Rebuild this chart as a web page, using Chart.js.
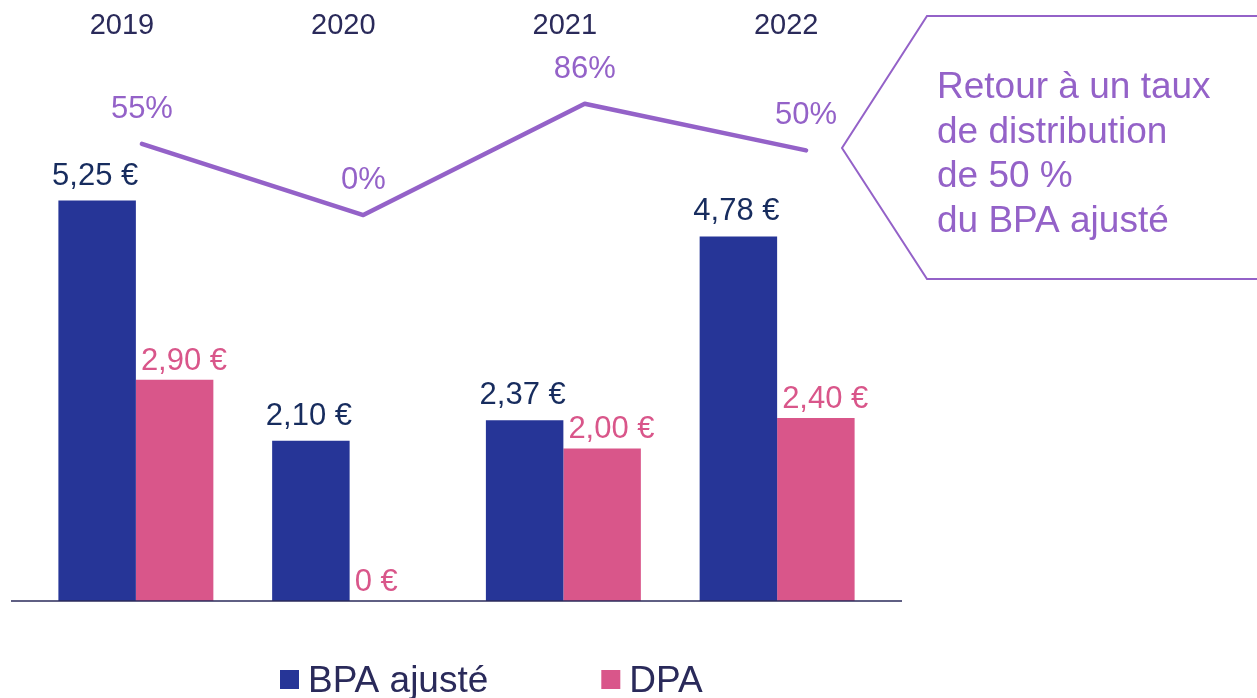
<!DOCTYPE html>
<html>
<head>
<meta charset="utf-8">
<script src="https://cdn.jsdelivr.net/npm/chart.js@4.4.0/dist/chart.umd.min.js"></script>
<style>
  body { margin: 0; background: #fff; }
  #wrap { position: relative; width: 1257px; height: 698px; }
  #wrap canvas { position: absolute; left: 0; top: 0; }
</style>
</head>
<body>
<div id="wrap">
  <canvas id="bar_chart" width="1257" height="698"></canvas>
  <canvas id="line_chart" width="1257" height="698"></canvas>
</div>
<script>
// values
const years = ['2019', '2020', '2021', '2022'];
const bpa = [5.25, 2.10, 2.37, 4.78];      // BPA ajusté (€)
const dpa = [2.90, 0, 2.00, 2.40];         // DPA (€)
const payout = [55, 0, 86, 50];            // taux de distribution (%)
const seriesNames = ['BPA ajusté', 'DPA'];
const calloutLines = ['Retour à un taux', 'de distribution', 'de 50 %', 'du BPA ajusté'];

const BLUE = '#263597';
const PINK = '#D9568A';
const PURPLE = '#9462C8';
const NAVY = '#172C5E';
const TEXT = '#2A2A5A';
const FONT = 'Arial, "Liberation Sans", sans-serif';
const PADDING = { left: 29, right: 373, top: 0, bottom: 97 };

function euro(v) {
    if (v == 0) return '0 €';
    return v.toFixed(2).replace('.', ',') + ' €';
}

// bar labels, base line, callout box, legend
const barDecorations = {
    id: 'barDecorations',
    afterDatasetsDraw(chart) {
        const ctx = chart.ctx;
        const area = chart.chartArea;
        const y0 = chart.scales.y.getPixelForValue(0);

        ctx.save();
        // base line over the bars
        ctx.strokeStyle = TEXT;
        ctx.lineWidth = 1.5;
        ctx.beginPath();
        ctx.moveTo(area.left - 18, y0);
        ctx.lineTo(area.right + 18, y0);
        ctx.stroke();

        ctx.font = '31px ' + FONT;
        ctx.textBaseline = 'alphabetic';
        chart.getDatasetMeta(0).data.forEach(function(bar, i) {
            ctx.fillStyle = NAVY;
            ctx.textAlign = 'center';
            ctx.fillText(euro(bpa[i]), bar.x - 2, bar.y - 16);
        });
        chart.getDatasetMeta(1).data.forEach(function(bar, i) {
            ctx.fillStyle = PINK;
            ctx.textAlign = 'left';
            ctx.fillText(euro(dpa[i]), bar.x - bar.width / 2 + 5, bar.y - 10);
        });

        // callout box
        ctx.strokeStyle = PURPLE;
        ctx.lineWidth = 2;
        ctx.beginPath();
        ctx.moveTo(1262, 16);
        ctx.lineTo(927, 16);
        ctx.lineTo(842, 148);
        ctx.lineTo(927, 279);
        ctx.lineTo(1262, 279);
        ctx.stroke();
        ctx.font = '37px ' + FONT;
        ctx.fillStyle = PURPLE;
        ctx.textAlign = 'left';
        calloutLines.forEach(function(line, i) {
            ctx.fillText(line, 937, 98 + i * 44.5);
        });

        // legend
        var colors = [BLUE, PINK];
        var lx = 280;
        ctx.font = '37px ' + FONT;
        seriesNames.forEach(function(name, i) {
            ctx.fillStyle = colors[i];
            ctx.fillRect(lx, 670, 19, 19);
            ctx.fillStyle = TEXT;
            ctx.fillText(name, lx + 28, 692);
            lx += 28 + ctx.measureText(name).width + 113;
        });
        ctx.restore();
    }
};

// percent labels and year headers
const lineDecorations = {
    id: 'lineDecorations',
    afterDatasetsDraw(chart) {
        const ctx = chart.ctx;
        const xs = chart.scales.x;
        ctx.save();
        ctx.textBaseline = 'alphabetic';
        ctx.textAlign = 'center';
        ctx.font = '31px ' + FONT;
        ctx.fillStyle = PURPLE;
        chart.getDatasetMeta(0).data.forEach(function(pt, i) {
            ctx.fillText(payout[i] + '%', pt.x, pt.y - 26);
        });
        ctx.font = '29px ' + FONT;
        ctx.fillStyle = TEXT;
        years.forEach(function(yr, i) {
            ctx.fillText(yr, xs.getPixelForValue(i - 0.09), 34);
        });
        ctx.restore();
    }
};

new Chart(document.getElementById('bar_chart'), {
    type: 'bar',
    data: {
        labels: years,
        datasets: [
            {
                label: seriesNames[0],
                data: bpa,
                backgroundColor: BLUE,
                categoryPercentage: 0.725,
                barPercentage: 1.0
            },
            {
                label: seriesNames[1],
                data: dpa,
                backgroundColor: PINK,
                categoryPercentage: 0.725,
                barPercentage: 1.0
            }
        ]
    },
    options: {
        responsive: false,
        animation: false,
        layout: { padding: PADDING },
        plugins: {
            legend: { display: false },
            tooltip: { enabled: false }
        },
        scales: {
            x: { display: false, offset: true },
            y: { display: false, min: 0, max: 7.88 }
        }
    },
    plugins: [barDecorations]
});

// payout line sits on its own transparent canvas above the bars
new Chart(document.getElementById('line_chart'), {
    type: 'line',
    data: {
        datasets: [{
            label: 'Taux de distribution',
            data: payout.map(function(v, i) { return { x: i, y: v }; }),
            borderColor: PURPLE,
            borderWidth: 4.5,
            borderCapStyle: 'round',
            borderJoinStyle: 'round',
            pointRadius: 0,
            tension: 0,
            fill: false
        }]
    },
    options: {
        responsive: false,
        animation: false,
        layout: { padding: PADDING },
        plugins: {
            legend: { display: false },
            tooltip: { enabled: false }
        },
        scales: {
            x: { type: 'linear', display: false, offset: false, min: -0.51, max: 3.352 },
            y: { type: 'linear', display: false, min: -298.3, max: 166.2 }
        }
    },
    plugins: [lineDecorations]
});
</script>
</body>
</html>
